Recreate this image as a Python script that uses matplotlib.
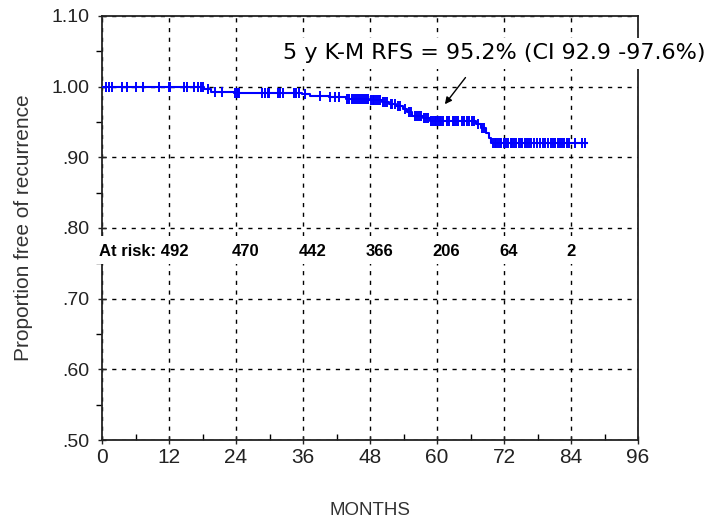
import numpy as np
import matplotlib
matplotlib.use("Agg")
import matplotlib.pyplot as plt
from matplotlib.patches import Rectangle
from matplotlib.ticker import MultipleLocator, FuncFormatter

# Kaplan-Meier steps (months, proportion free of recurrence)
km_time = [0, 18.3, 19.5, 23.7, 35.8, 37.3, 40.6, 43.7, 47.8, 50.2, 51.4,
           52.7, 53.9, 54.7, 55.6, 57.4, 58.7, 67.0, 67.8, 68.7, 69.3, 69.7]
km_surv = [1.000, 0.997, 0.993, 0.991, 0.989, 0.987, 0.985, 0.983, 0.981,
           0.978, 0.975, 0.972, 0.968, 0.964, 0.959, 0.956, 0.952, 0.947,
           0.941, 0.934, 0.927, 0.920]

# censored observations (months)
censor_times = [0.8, 1.3, 1.7, 3.5, 4.4, 6.0, 7.3, 10.2, 12.0, 12.1, 14.7,
                15.3, 16.5, 17.2, 17.8, 18.1, 19.0, 20.2, 21.5, 23.9, 24.1,
                24.3, 24.5, 28.6, 29.2, 29.7, 29.9, 31.5, 31.8, 32.4, 34.3,
                34.7, 35.3, 36.4, 39.1, 40.9, 41.7, 42.5, 43.9, 44.3, 44.7,
                45.1, 45.4, 45.8, 46.2, 46.6, 47.0, 47.3, 47.6, 48.1, 48.5,
                48.8, 49.1, 49.4, 49.7, 50.4, 50.7, 51.0, 51.7, 52.0, 52.4,
                53.0, 53.4, 54.2, 55.0, 55.4, 56.0, 56.4, 56.8, 57.2, 57.7,
                58.1, 58.4, 59.0, 59.3, 59.6, 59.9, 60.2, 60.5, 60.8, 61.1,
                61.7, 62.1, 62.8, 63.1, 63.4, 63.8, 64.5, 64.9, 65.3, 65.7,
                66.2, 66.7, 67.3, 68.1, 68.5, 70.0, 70.3, 70.6, 70.9, 71.2,
                71.5, 72.0, 72.4, 72.8, 73.2, 73.5, 73.8, 74.2, 74.6, 75.0,
                75.3, 75.7, 76.1, 76.5, 76.9, 77.4, 77.9, 78.4, 78.9, 79.4,
                79.9, 80.4, 80.8, 81.2, 81.6, 82.0, 82.4, 82.8, 83.2, 83.6,
                84.7, 85.9, 86.5]
end_time = 86.8

at_risk = [492, 470, 442, 366, 206, 64, 2]
at_risk_months = [0, 24, 36, 48, 60, 72, 84]

annot_text = "5 y K-M RFS = 95.2% (CI 92.9 -97.6%)"

blue = "#0000ff"

fig = plt.figure(figsize=(7.09, 5.19), dpi=100)
ax = fig.add_axes([0.1439, 0.1522, 0.8999 - 0.1439, 0.9692 - 0.1522])

# survival curve
t = np.array(km_time + [end_time])
s = np.array(km_surv + [km_surv[-1]])
ax.plot(t, s, drawstyle="steps-post", color=blue, lw=1.5, zorder=4)

# censor ticks placed on the curve
idx = np.searchsorted(np.array(km_time), np.array(censor_times), side="right") - 1
cens_y = np.array(km_surv)[idx]
ax.plot(censor_times, cens_y, ls="none", marker="|", ms=7.5, mew=1.4,
        color=blue, zorder=4)

ax.set_xlim(0, 96)
ax.set_ylim(0.5, 1.1)
ax.xaxis.set_major_locator(MultipleLocator(12))
ax.xaxis.set_minor_locator(MultipleLocator(6))
ax.yaxis.set_major_locator(MultipleLocator(0.1))
ax.yaxis.set_minor_locator(MultipleLocator(0.05))

def ylab(v, pos):
    txt = f"{v:.2f}"
    return txt[1:] if txt.startswith("0") else txt

ax.yaxis.set_major_formatter(FuncFormatter(ylab))

tick_font = ["Liberation Sans", "DejaVu Sans"]
ax.tick_params(axis="both", which="major", direction="inout", length=6,
               width=1, color="#222222", labelcolor="#222222")
ax.tick_params(axis="x", which="minor", direction="in", length=4, width=1)
ax.tick_params(axis="y", which="minor", direction="out", length=4, width=1)
ax.tick_params(axis="x", which="major", pad=3)
ax.tick_params(axis="y", which="major", pad=6)
for lbl in ax.get_xticklabels():
    lbl.set_fontfamily(tick_font)
    lbl.set_fontsize(15)
for lbl in ax.get_yticklabels():
    lbl.set_fontfamily(tick_font)
    lbl.set_fontsize(14)

ax.grid(True, which="major", color="black", ls=(0, (3, 4)), lw=1)
for side in ax.spines.values():
    side.set_linewidth(1.3)
    side.set_color("#222222")

ax.set_ylabel("Proportion free of recurrence", fontsize=15, color="#333333",
              family=["Liberation Sans", "DejaVu Sans"], labelpad=13)
ax.set_xlabel("MONTHS", fontsize=13.5, color="#333333",
              family=["Liberation Sans", "DejaVu Sans"], labelpad=25)

# white band behind the numbers at risk
ax.add_patch(Rectangle((-2.1, 0.749), 96.7, 0.0397, facecolor="white",
                       edgecolor="none", clip_on=False, zorder=5))
for i, (m, n) in enumerate(zip(at_risk_months, at_risk)):
    label = f"At risk: {n}" if i == 0 else str(n)
    xpos = -0.5 if i == 0 else m - 0.8
    ax.text(xpos, 0.7665, label, ha="left", va="center", fontsize=12,
            fontweight="bold", family=["Liberation Sans", "DejaVu Sans"],
            zorder=6, clip_on=False)

# annotation with arrow
ax.text(32.4, 1.047, annot_text, ha="left", va="center", fontsize=16,
        family=["DejaVu Sans"], zorder=7, clip_on=False,
        bbox=dict(facecolor="white", edgecolor="none", pad=4))
ax.annotate("", xy=(61.1, 0.972), xytext=(65.4, 1.016),
            arrowprops=dict(arrowstyle="-|>", color="black", lw=1,
                            mutation_scale=10),
            zorder=7)

fig.savefig("out.png", dpi=100)
